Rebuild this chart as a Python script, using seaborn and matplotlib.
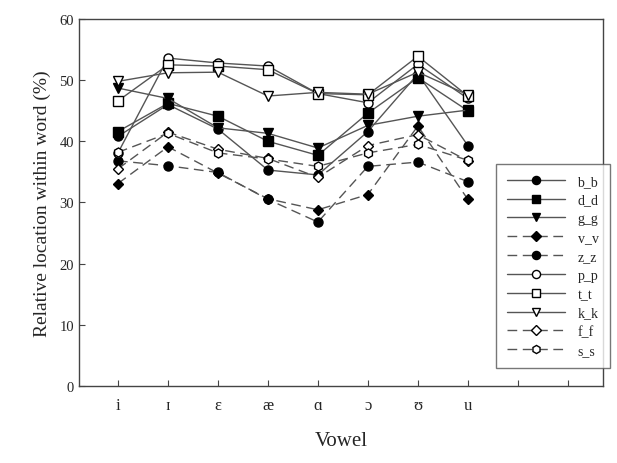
import matplotlib
matplotlib.use("Agg")
import matplotlib.pyplot as plt
import seaborn as sns
import pandas as pd

# vowel categories (positions 1..8 on the x axis)
vowels = ['i', 'ɪ', 'ɛ', 'æ', 'ɑ', 'ɔ', 'ʊ', 'u']
xpos = [1, 2, 3, 4, 5, 6, 7, 8]

b_b = [40.8, 46.0, 42.0, 35.3, 34.5, 41.6, 51.0, 39.3]
d_d = [41.6, 46.2, 44.1, 40.0, 37.7, 44.6, 50.4, 45.0]
g_g = [48.7, 47.0, 42.2, 41.3, 38.9, 42.6, 44.1, 45.1]
v_v = [33.1, 39.1, 34.8, 30.6, 28.8, 31.3, 42.5, 30.5]
z_z = [36.8, 36.0, 34.9, 30.5, 26.8, 35.9, 36.6, 33.4]
p_p = [38.1, 53.6, 52.8, 52.3, 47.8, 46.3, 52.6, 47.0]
t_t = [46.6, 52.5, 52.3, 51.7, 47.8, 47.6, 53.9, 47.4]
k_k = [49.8, 51.2, 51.3, 47.4, 48.0, 47.7, 51.3, 47.6]
f_f = [35.5, 41.5, 38.7, 37.2, 34.1, 39.3, 41.1, 36.8]
s_s = [38.2, 41.3, 38.1, 37.1, 35.9, 38.1, 39.5, 36.9]

series = [('b_b', b_b, 'o', 'black', '-'),
          ('d_d', d_d, 's', 'black', '-'),
          ('g_g', g_g, 'v', 'black', '-'),
          ('v_v', v_v, 'D', 'black', '--'),
          ('z_z', z_z, 'o', 'black', '--'),
          ('p_p', p_p, 'o', 'white', '-'),
          ('t_t', t_t, 's', 'white', '-'),
          ('k_k', k_k, 'v', 'white', '-'),
          ('f_f', f_f, 'D', 'white', '--'),
          ('s_s', s_s, 'h', 'white', '--')]

sns.set_style("white")
plt.rcParams['font.family'] = ['Liberation Serif', 'DejaVu Serif']

fig = plt.figure(figsize=(6.17, 4.64), dpi=100)
ax = fig.add_axes([0.128, 0.166, 0.849, 0.791])

for name, vals, mk, fc, ls in series:
    df = pd.DataFrame({'x': xpos, 'y': vals})
    kw = dict(dashes=(7, 4)) if ls == '--' else {}
    sns.lineplot(data=df, x='x', y='y', ax=ax, color='#555555', linewidth=1.0,
                 marker=mk, markersize=6.5 if mk != 'D' else 5.5, markerfacecolor=fc,
                 markeredgecolor='black', markeredgewidth=1.0, label=name, **kw)

ax.set_xlim(0.22, 10.7)
ax.set_ylim(0, 60)
ax.set_xticks(range(1, 11))
ax.set_xticklabels(vowels + ['', ''], fontsize=12)
ax.set_yticks(range(0, 61, 10))
ax.set_yticklabels([str(v) for v in range(0, 61, 10)], fontsize=10.5)
ax.tick_params(direction='in', length=4, color='#444444', bottom=True, left=True)
ax.tick_params(axis='x', pad=8)
for s in ['top', 'right', 'left', 'bottom']:
    ax.spines[s].set_color('#444444')
    ax.spines[s].set_linewidth(1.0)

ax.set_xlabel('Vowel', fontsize=15, labelpad=13)
ax.set_ylabel('Relative location within word (%)', fontsize=14, labelpad=6)

leg = ax.legend(loc='upper left', bbox_to_anchor=(0.782, 0.625), fontsize=10,
                handlelength=4.2, labelspacing=0.42, frameon=True, fancybox=False,
                borderpad=0.8, handletextpad=0.9, markerscale=0.9)
leg.get_frame().set_edgecolor('#555555')
leg.get_frame().set_linewidth(1.0)

fig.savefig('out.png', dpi=100)
